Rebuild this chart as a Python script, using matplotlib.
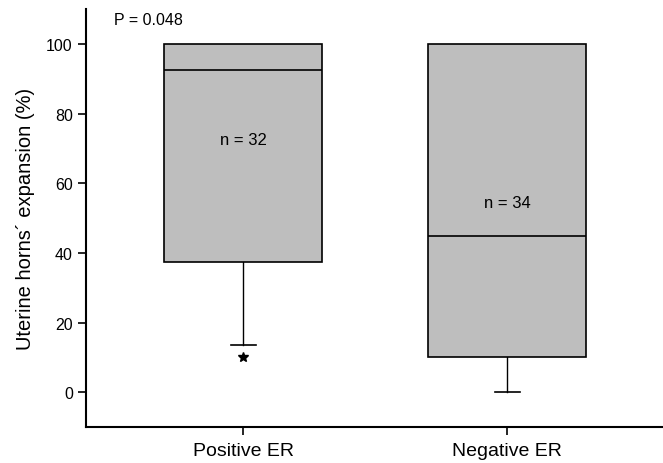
import matplotlib
matplotlib.use("Agg")
import matplotlib.pyplot as plt

plt.rcParams['font.family'] = ['Liberation Sans', 'DejaVu Sans']

# values
groups = ['Positive ER', 'Negative ER']
whisker_low = [13.5, 0]
q1 = [37.5, 10]
median = [92.5, 45]
q3 = [100, 100]
whisker_high = [100, 100]
outliers = [[10], []]
n_labels = ['n = 32', 'n = 34']
n_label_y = [72.5, 54.5]
p_text = 'P = 0.048'

stats = []
for i, g in enumerate(groups):
    stats.append({'label': g, 'whislo': whisker_low[i], 'q1': q1[i], 'med': median[i],
                  'q3': q3[i], 'whishi': whisker_high[i], 'fliers': outliers[i]})

fig = plt.figure(figsize=(6.63, 4.64), dpi=100)
ax = fig.add_axes([0.1297, 0.0776, 0.8703, 0.9004])

bp = ax.bxp(stats, positions=[1, 2], widths=0.6, patch_artist=True,
            boxprops=dict(facecolor='#bebebe', edgecolor='black', linewidth=1.2, zorder=3),
            medianprops=dict(color='black', linewidth=1.2, zorder=4),
            whiskerprops=dict(color='black', linewidth=1.0, zorder=1),
            capprops=dict(color='black', linewidth=1.2, zorder=1),
            capwidths=0.095,
            flierprops=dict(marker='*', markerfacecolor='black', markeredgecolor='black',
                            markersize=7))

# upper caps sit on the box edge where whisker top equals Q3
for i in range(len(groups)):
    if whisker_high[i] == q3[i]:
        bp['caps'][2 * i + 1].set_visible(False)

for i in range(len(groups)):
    ax.text(i + 1, n_label_y[i], n_labels[i], ha='center', va='center', fontsize=12, zorder=5)

ax.text(0.51, 107, p_text, ha='left', va='center', fontsize=11.5)

ax.set_xlim(0.405, 2.59)
ax.set_ylim(-10, 110)
ax.set_yticks([0, 20, 40, 60, 80, 100])
ax.set_xticks([1, 2])
ax.set_xticklabels(groups)
ax.tick_params(axis='both', direction='out', length=6, width=1.2)
ax.tick_params(axis='y', labelsize=11.5)
ax.tick_params(axis='x', labelsize=14, pad=5)
ax.set_ylabel('Uterine horns´ expansion (%)', fontsize=14.5, labelpad=8)

for s in ['top', 'right']:
    ax.spines[s].set_visible(False)
for s in ['left', 'bottom']:
    ax.spines[s].set_linewidth(1.5)

fig.savefig('out.png', dpi=100)
